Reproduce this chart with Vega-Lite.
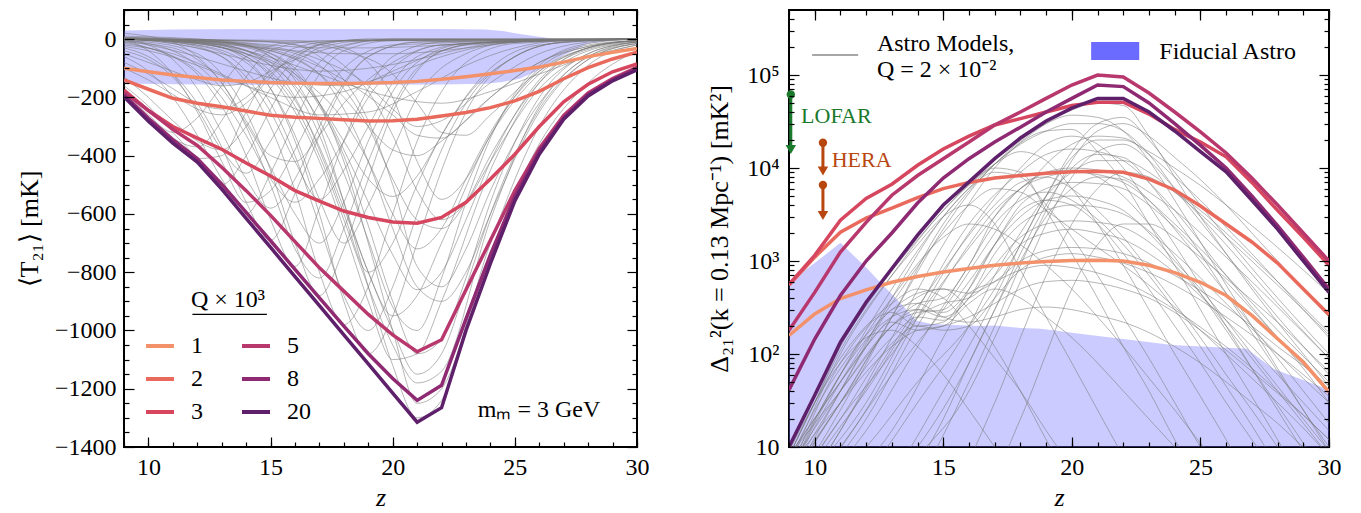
{
"$schema":"https://vega.github.io/schema/vega-lite/v6.json",
"background":"white",
"padding":{"left":15,"top":8,"right":5,"bottom":0},
"config":{
 "font":"Liberation Serif",
 "view":{"stroke":"black","strokeWidth":2},
 "axis":{"grid":false,"domain":false,"labelFont":"Liberation Serif","labelFontSize":24,"labelColor":"black","titleFont":"Liberation Serif","titleFontSize":26,"titleFontWeight":"normal","titleColor":"black","tickColor":"black","tickWidth":1.2,"labelFlush":false,"labelOverlap":false},
 "text":{"font":"Liberation Serif","fontSize":24,"color":"black"}
},
"datasets":{
 "lband":[
  {"z":9,"hi":30,"lo":-152},{"z":11,"hi":33,"lo":-155},{"z":14,"hi":35,"lo":-157},{"z":18,"hi":35,"lo":-157},{"z":22,"hi":35,"lo":-156},{"z":23.8,"hi":33,"lo":-153},{"z":24.5,"hi":28,"lo":-147},{"z":25.2,"hi":18,"lo":-136},{"z":26,"hi":8,"lo":-105},{"z":26.6,"hi":1,"lo":-75},{"z":27,"hi":0,"lo":-55},{"z":28,"hi":0,"lo":-15},{"z":29,"hi":0,"lo":-5},{"z":30,"hi":0,"lo":-1}
 ],
 "lq":[
  {"q":"1","z":9,"v":-100},{"q":"1","z":10,"v":-112},{"q":"1","z":11,"v":-123},{"q":"1","z":12,"v":-132},{"q":"1","z":13,"v":-140},{"q":"1","z":14,"v":-145},{"q":"1","z":15,"v":-149},{"q":"1","z":16,"v":-151},{"q":"1","z":17,"v":-152},{"q":"1","z":18,"v":-152},{"q":"1","z":19,"v":-151},{"q":"1","z":20,"v":-149},{"q":"1","z":21,"v":-145},{"q":"1","z":22,"v":-138},{"q":"1","z":23,"v":-129},{"q":"1","z":24,"v":-119},{"q":"1","z":25,"v":-108},{"q":"1","z":26,"v":-96},{"q":"1","z":27,"v":-79},{"q":"1","z":28,"v":-60},{"q":"1","z":29,"v":-45},{"q":"1","z":30,"v":-32},
  {"q":"2","z":9,"v":-140},{"q":"2","z":10,"v":-172},{"q":"2","z":11,"v":-203},{"q":"2","z":12,"v":-220},{"q":"2","z":13,"v":-232},{"q":"2","z":14,"v":-247},{"q":"2","z":15,"v":-261},{"q":"2","z":16,"v":-268},{"q":"2","z":17,"v":-272},{"q":"2","z":18,"v":-277},{"q":"2","z":19,"v":-281},{"q":"2","z":20,"v":-280},{"q":"2","z":21,"v":-275},{"q":"2","z":22,"v":-264},{"q":"2","z":23,"v":-252},{"q":"2","z":24,"v":-235},{"q":"2","z":25,"v":-212},{"q":"2","z":26,"v":-179},{"q":"2","z":27,"v":-136},{"q":"2","z":28,"v":-98},{"q":"2","z":29,"v":-68},{"q":"2","z":30,"v":-45},
  {"q":"3","z":9,"v":-175},{"q":"3","z":10,"v":-245},{"q":"3","z":11,"v":-300},{"q":"3","z":12,"v":-340},{"q":"3","z":13,"v":-378},{"q":"3","z":14,"v":-425},{"q":"3","z":15,"v":-470},{"q":"3","z":16,"v":-520},{"q":"3","z":17,"v":-556},{"q":"3","z":18,"v":-590},{"q":"3","z":19,"v":-612},{"q":"3","z":20,"v":-628},{"q":"3","z":21,"v":-632},{"q":"3","z":22,"v":-612},{"q":"3","z":23,"v":-560},{"q":"3","z":24,"v":-480},{"q":"3","z":25,"v":-395},{"q":"3","z":26,"v":-300},{"q":"3","z":27,"v":-215},{"q":"3","z":28,"v":-155},{"q":"3","z":29,"v":-112},{"q":"3","z":30,"v":-85},
  {"q":"5","z":9,"v":-182},{"q":"5","z":10,"v":-245},{"q":"5","z":11,"v":-310},{"q":"5","z":12,"v":-365},{"q":"5","z":13,"v":-440},{"q":"5","z":14,"v":-520},{"q":"5","z":15,"v":-605},{"q":"5","z":16,"v":-695},{"q":"5","z":17,"v":-785},{"q":"5","z":18,"v":-865},{"q":"5","z":19,"v":-945},{"q":"5","z":20,"v":-1015},{"q":"5","z":21,"v":-1073},{"q":"5","z":22,"v":-1032},{"q":"5","z":23,"v":-860},{"q":"5","z":24,"v":-690},{"q":"5","z":25,"v":-520},{"q":"5","z":26,"v":-375},{"q":"5","z":27,"v":-262},{"q":"5","z":28,"v":-185},{"q":"5","z":29,"v":-135},{"q":"5","z":30,"v":-97},
  {"q":"8","z":9,"v":-192},{"q":"8","z":10,"v":-272},{"q":"8","z":11,"v":-345},{"q":"8","z":12,"v":-410},{"q":"8","z":13,"v":-498},{"q":"8","z":14,"v":-595},{"q":"8","z":15,"v":-692},{"q":"8","z":16,"v":-790},{"q":"8","z":17,"v":-888},{"q":"8","z":18,"v":-985},{"q":"8","z":19,"v":-1080},{"q":"8","z":20,"v":-1165},{"q":"8","z":21,"v":-1240},{"q":"8","z":22,"v":-1188},{"q":"8","z":23,"v":-960},{"q":"8","z":24,"v":-740},{"q":"8","z":25,"v":-540},{"q":"8","z":26,"v":-385},{"q":"8","z":27,"v":-270},{"q":"8","z":28,"v":-190},{"q":"8","z":29,"v":-140},{"q":"8","z":30,"v":-100},
  {"q":"20","z":9,"v":-198},{"q":"20","z":10,"v":-282},{"q":"20","z":11,"v":-357},{"q":"20","z":12,"v":-422},{"q":"20","z":13,"v":-515},{"q":"20","z":14,"v":-615},{"q":"20","z":15,"v":-715},{"q":"20","z":16,"v":-815},{"q":"20","z":17,"v":-915},{"q":"20","z":18,"v":-1015},{"q":"20","z":19,"v":-1115},{"q":"20","z":20,"v":-1215},{"q":"20","z":21,"v":-1315},{"q":"20","z":22,"v":-1265},{"q":"20","z":23,"v":-1000},{"q":"20","z":24,"v":-770},{"q":"20","z":25,"v":-555},{"q":"20","z":26,"v":-395},{"q":"20","z":27,"v":-275},{"q":"20","z":28,"v":-195},{"q":"20","z":29,"v":-143},{"q":"20","z":30,"v":-105}
 ],
 "lg":[
  {"m":1,"z":9,"v":5},{"m":1,"z":12,"v":0},{"m":1,"z":14,"v":-20},{"m":1,"z":15,"v":-60},{"m":1,"z":16,"v":-140},{"m":1,"z":17,"v":-300},{"m":1,"z":18,"v":-560},{"m":1,"z":19,"v":-850},{"m":1,"z":20,"v":-1120},{"m":1,"z":21,"v":-1300},{"m":1,"z":22,"v":-1240},{"m":1,"z":23,"v":-990},{"m":1,"z":24,"v":-740},{"m":1,"z":26,"v":-360},{"m":1,"z":28,"v":-150},{"m":1,"z":30,"v":-40},
  {"m":2,"z":9,"v":5},{"m":2,"z":12,"v":-5},{"m":2,"z":14,"v":-25},{"m":2,"z":16,"v":-100},{"m":2,"z":17,"v":-220},{"m":2,"z":18,"v":-420},{"m":2,"z":19,"v":-700},{"m":2,"z":20,"v":-1000},{"m":2,"z":21,"v":-1250},{"m":2,"z":22,"v":-1200},{"m":2,"z":24,"v":-700},{"m":2,"z":26,"v":-300},{"m":2,"z":28,"v":-90},{"m":2,"z":30,"v":-20},
  {"m":3,"z":9,"v":0},{"m":3,"z":12,"v":-15},{"m":3,"z":14,"v":-60},{"m":3,"z":15,"v":-120},{"m":3,"z":16,"v":-230},{"m":3,"z":17,"v":-400},{"m":3,"z":18,"v":-620},{"m":3,"z":19,"v":-850},{"m":3,"z":20,"v":-1050},{"m":3,"z":21,"v":-1180},{"m":3,"z":22,"v":-1140},{"m":3,"z":24,"v":-620},{"m":3,"z":26,"v":-230},{"m":3,"z":28,"v":-60},{"m":3,"z":30,"v":-10},
  {"m":4,"z":9,"v":0},{"m":4,"z":12,"v":-15},{"m":4,"z":14,"v":-60},{"m":4,"z":15,"v":-130},{"m":4,"z":16,"v":-250},{"m":4,"z":17,"v":-420},{"m":4,"z":18,"v":-650},{"m":4,"z":19,"v":-900},{"m":4,"z":20,"v":-1100},{"m":4,"z":21,"v":-1080},{"m":4,"z":22,"v":-900},{"m":4,"z":24,"v":-450},{"m":4,"z":26,"v":-150},{"m":4,"z":28,"v":-30},{"m":4,"z":30,"v":-5},
  {"m":5,"z":9,"v":0},{"m":5,"z":13,"v":-20},{"m":5,"z":15,"v":-80},{"m":5,"z":16,"v":-170},{"m":5,"z":17,"v":-330},{"m":5,"z":18,"v":-560},{"m":5,"z":19,"v":-800},{"m":5,"z":20,"v":-950},{"m":5,"z":21,"v":-880},{"m":5,"z":22,"v":-700},{"m":5,"z":24,"v":-330},{"m":5,"z":26,"v":-100},{"m":5,"z":28,"v":-25},{"m":5,"z":30,"v":-5},
  {"m":6,"z":9,"v":5},{"m":6,"z":12,"v":-10},{"m":6,"z":14,"v":-70},{"m":6,"z":15,"v":-170},{"m":6,"z":16,"v":-350},{"m":6,"z":17,"v":-600},{"m":6,"z":18,"v":-900},{"m":6,"z":19,"v":-1080},{"m":6,"z":20,"v":-950},{"m":6,"z":21,"v":-700},{"m":6,"z":22,"v":-450},{"m":6,"z":23,"v":-250},{"m":6,"z":25,"v":-60},{"m":6,"z":27,"v":-10},{"m":6,"z":30,"v":0},
  {"m":7,"z":9,"v":0},{"m":7,"z":13,"v":-20},{"m":7,"z":15,"v":-90},{"m":7,"z":16,"v":-200},{"m":7,"z":17,"v":-380},{"m":7,"z":18,"v":-600},{"m":7,"z":19,"v":-800},{"m":7,"z":20,"v":-700},{"m":7,"z":21,"v":-500},{"m":7,"z":22,"v":-330},{"m":7,"z":24,"v":-100},{"m":7,"z":26,"v":-20},{"m":7,"z":30,"v":0},
  {"m":8,"z":9,"v":0},{"m":8,"z":11,"v":-10},{"m":8,"z":13,"v":-60},{"m":8,"z":14,"v":-150},{"m":8,"z":15,"v":-300},{"m":8,"z":16,"v":-520},{"m":8,"z":17,"v":-800},{"m":8,"z":18,"v":-980},{"m":8,"z":19,"v":-850},{"m":8,"z":20,"v":-600},{"m":8,"z":21,"v":-350},{"m":8,"z":22,"v":-180},{"m":8,"z":23,"v":-80},{"m":8,"z":25,"v":-15},{"m":8,"z":30,"v":0},
  {"m":9,"z":9,"v":0},{"m":9,"z":12,"v":-20},{"m":9,"z":14,"v":-80},{"m":9,"z":15,"v":-170},{"m":9,"z":16,"v":-330},{"m":9,"z":17,"v":-550},{"m":9,"z":18,"v":-700},{"m":9,"z":19,"v":-570},{"m":9,"z":20,"v":-380},{"m":9,"z":21,"v":-200},{"m":9,"z":23,"v":-50},{"m":9,"z":25,"v":-10},{"m":9,"z":30,"v":0},
  {"m":10,"z":9,"v":-5},{"m":10,"z":10,"v":-10},{"m":10,"z":12,"v":-50},{"m":10,"z":13,"v":-120},{"m":10,"z":14,"v":-250},{"m":10,"z":15,"v":-450},{"m":10,"z":16,"v":-700},{"m":10,"z":17,"v":-880},{"m":10,"z":18,"v":-720},{"m":10,"z":19,"v":-480},{"m":10,"z":20,"v":-250},{"m":10,"z":21,"v":-110},{"m":10,"z":22,"v":-40},{"m":10,"z":24,"v":-10},{"m":10,"z":30,"v":0},
  {"m":11,"z":9,"v":0},{"m":11,"z":11,"v":-15},{"m":11,"z":13,"v":-60},{"m":11,"z":14,"v":-130},{"m":11,"z":15,"v":-250},{"m":11,"z":16,"v":-420},{"m":11,"z":17,"v":-550},{"m":11,"z":18,"v":-450},{"m":11,"z":19,"v":-300},{"m":11,"z":20,"v":-150},{"m":11,"z":21,"v":-60},{"m":11,"z":23,"v":-15},{"m":11,"z":30,"v":0},
  {"m":12,"z":9,"v":-15},{"m":12,"z":10,"v":-30},{"m":12,"z":11,"v":-60},{"m":12,"z":12,"v":-120},{"m":12,"z":13,"v":-230},{"m":12,"z":14,"v":-400},{"m":12,"z":15,"v":-620},{"m":12,"z":16,"v":-780},{"m":12,"z":17,"v":-580},{"m":12,"z":18,"v":-350},{"m":12,"z":19,"v":-170},{"m":12,"z":20,"v":-60},{"m":12,"z":22,"v":-10},{"m":12,"z":30,"v":0},
  {"m":13,"z":9,"v":-30},{"m":13,"z":10,"v":-60},{"m":13,"z":11,"v":-120},{"m":13,"z":12,"v":-220},{"m":13,"z":13,"v":-370},{"m":13,"z":14,"v":-560},{"m":13,"z":15,"v":-690},{"m":13,"z":16,"v":-530},{"m":13,"z":17,"v":-330},{"m":13,"z":18,"v":-160},{"m":13,"z":19,"v":-60},{"m":13,"z":21,"v":-10},{"m":13,"z":30,"v":0},
  {"m":14,"z":9,"v":-60},{"m":14,"z":10,"v":-110},{"m":14,"z":11,"v":-200},{"m":14,"z":12,"v":-330},{"m":14,"z":13,"v":-480},{"m":14,"z":14,"v":-600},{"m":14,"z":15,"v":-460},{"m":14,"z":16,"v":-280},{"m":14,"z":17,"v":-120},{"m":14,"z":18,"v":-40},{"m":14,"z":20,"v":-5},{"m":14,"z":30,"v":0},
  {"m":15,"z":9,"v":-160},{"m":15,"z":10,"v":-230},{"m":15,"z":11,"v":-320},{"m":15,"z":12,"v":-410},{"m":15,"z":13,"v":-500},{"m":15,"z":14,"v":-400},{"m":15,"z":15,"v":-240},{"m":15,"z":16,"v":-100},{"m":15,"z":17,"v":-30},{"m":15,"z":19,"v":-5},{"m":15,"z":30,"v":0},
  {"m":16,"z":9,"v":-198},{"m":16,"z":10,"v":-275},{"m":16,"z":11,"v":-350},{"m":16,"z":12,"v":-410},{"m":16,"z":13,"v":-400},{"m":16,"z":14,"v":-250},{"m":16,"z":15,"v":-100},{"m":16,"z":16,"v":-30},{"m":16,"z":18,"v":-5},{"m":16,"z":30,"v":0},
  {"m":17,"z":9,"v":-190},{"m":17,"z":10,"v":-270},{"m":17,"z":11,"v":-340},{"m":17,"z":12,"v":-370},{"m":17,"z":13,"v":-280},{"m":17,"z":14,"v":-130},{"m":17,"z":15,"v":-40},{"m":17,"z":17,"v":-5},{"m":17,"z":30,"v":0},
  {"m":18,"z":9,"v":-180},{"m":18,"z":10,"v":-260},{"m":18,"z":11,"v":-320},{"m":18,"z":12,"v":-270},{"m":18,"z":13,"v":-160},{"m":18,"z":14,"v":-60},{"m":18,"z":16,"v":-10},{"m":18,"z":30,"v":0},
  {"m":19,"z":9,"v":-25},{"m":19,"z":10,"v":-40},{"m":19,"z":12,"v":-90},{"m":19,"z":14,"v":-160},{"m":19,"z":16,"v":-200},{"m":19,"z":18,"v":-180},{"m":19,"z":20,"v":-110},{"m":19,"z":22,"v":-40},{"m":19,"z":24,"v":-10},{"m":19,"z":30,"v":0},
  {"m":20,"z":9,"v":0},{"m":20,"z":11,"v":-15},{"m":20,"z":13,"v":-50},{"m":20,"z":15,"v":-90},{"m":20,"z":17,"v":-110},{"m":20,"z":19,"v":-100},{"m":20,"z":21,"v":-70},{"m":20,"z":23,"v":-30},{"m":20,"z":25,"v":-5},{"m":20,"z":30,"v":0},
  {"m":21,"z":9,"v":0},{"m":21,"z":12,"v":-10},{"m":21,"z":14,"v":-25},{"m":21,"z":16,"v":-40},{"m":21,"z":18,"v":-50},{"m":21,"z":20,"v":-50},{"m":21,"z":22,"v":-40},{"m":21,"z":24,"v":-20},{"m":21,"z":26,"v":-5},{"m":21,"z":30,"v":0},
  {"m":22,"z":9,"v":-5},{"m":22,"z":10,"v":-20},{"m":22,"z":12,"v":-60},{"m":22,"z":14,"v":-110},{"m":22,"z":16,"v":-150},{"m":22,"z":18,"v":-160},{"m":22,"z":20,"v":-120},{"m":22,"z":22,"v":-60},{"m":22,"z":25,"v":-10},{"m":22,"z":30,"v":0},
  {"m":23,"z":9,"v":-10},{"m":23,"z":10,"v":-30},{"m":23,"z":12,"v":-110},{"m":23,"z":13,"v":-200},{"m":23,"z":14,"v":-330},{"m":23,"z":15,"v":-480},{"m":23,"z":16,"v":-560},{"m":23,"z":17,"v":-480},{"m":23,"z":18,"v":-350},{"m":23,"z":19,"v":-200},{"m":23,"z":20,"v":-100},{"m":23,"z":22,"v":-20},{"m":23,"z":30,"v":0},
  {"m":24,"z":9,"v":0},{"m":24,"z":12,"v":-5},{"m":24,"z":15,"v":-30},{"m":24,"z":17,"v":-90},{"m":24,"z":18,"v":-170},{"m":24,"z":19,"v":-300},{"m":24,"z":20,"v":-480},{"m":24,"z":21,"v":-620},{"m":24,"z":22,"v":-650},{"m":24,"z":23,"v":-560},{"m":24,"z":24,"v":-400},{"m":24,"z":26,"v":-150},{"m":24,"z":28,"v":-40},{"m":24,"z":30,"v":-10},
  {"m":25,"z":9,"v":0},{"m":25,"z":12,"v":-5},{"m":25,"z":15,"v":-40},{"m":25,"z":17,"v":-120},{"m":25,"z":18,"v":-240},{"m":25,"z":19,"v":-420},{"m":25,"z":20,"v":-650},{"m":25,"z":21,"v":-850},{"m":25,"z":22,"v":-900},{"m":25,"z":23,"v":-800},{"m":25,"z":24,"v":-600},{"m":25,"z":26,"v":-250},{"m":25,"z":28,"v":-70},{"m":25,"z":30,"v":-15},
  {"m":26,"z":9,"v":0},{"m":26,"z":12,"v":-5},{"m":26,"z":15,"v":-40},{"m":26,"z":17,"v":-120},{"m":26,"z":18,"v":-200},{"m":26,"z":19,"v":-300},{"m":26,"z":20,"v":-380},{"m":26,"z":21,"v":-400},{"m":26,"z":22,"v":-350},{"m":26,"z":24,"v":-200},{"m":26,"z":26,"v":-80},{"m":26,"z":28,"v":-25},{"m":26,"z":30,"v":-5},
  {"m":27,"z":9,"v":20},{"m":27,"z":10,"v":10},{"m":27,"z":11,"v":-10},{"m":27,"z":12,"v":-60},{"m":27,"z":13,"v":-150},{"m":27,"z":14,"v":-280},{"m":27,"z":15,"v":-400},{"m":27,"z":16,"v":-420},{"m":27,"z":17,"v":-330},{"m":27,"z":18,"v":-220},{"m":27,"z":20,"v":-80},{"m":27,"z":22,"v":-20},{"m":27,"z":30,"v":0},
  {"m":28,"z":9,"v":0},{"m":28,"z":10,"v":-40},{"m":28,"z":11,"v":-120},{"m":28,"z":12,"v":-250},{"m":28,"z":13,"v":-420},{"m":28,"z":14,"v":-560},{"m":28,"z":15,"v":-520},{"m":28,"z":16,"v":-380},{"m":28,"z":17,"v":-220},{"m":28,"z":18,"v":-100},{"m":28,"z":20,"v":-20},{"m":28,"z":30,"v":0},
  {"m":29,"z":9,"v":0},{"m":29,"z":12,"v":-10},{"m":29,"z":14,"v":-40},{"m":29,"z":16,"v":-90},{"m":29,"z":18,"v":-150},{"m":29,"z":20,"v":-200},{"m":29,"z":22,"v":-220},{"m":29,"z":24,"v":-180},{"m":29,"z":26,"v":-120},{"m":29,"z":28,"v":-60},{"m":29,"z":30,"v":-20},
  {"m":30,"z":9,"v":-20},{"m":30,"z":11,"v":-50},{"m":30,"z":13,"v":-120},{"m":30,"z":15,"v":-200},{"m":30,"z":17,"v":-260},{"m":30,"z":19,"v":-250},{"m":30,"z":21,"v":-180},{"m":30,"z":23,"v":-90},{"m":30,"z":25,"v":-30},{"m":30,"z":27,"v":-5},{"m":30,"z":30,"v":0},
  {"m":31,"z":9,"v":-100},{"m":31,"z":10,"v":-140},{"m":31,"z":11,"v":-190},{"m":31,"z":12,"v":-240},{"m":31,"z":13,"v":-260},{"m":31,"z":14,"v":-220},{"m":31,"z":15,"v":-130},{"m":31,"z":16,"v":-50},{"m":31,"z":18,"v":-5},{"m":31,"z":30,"v":0},
  {"m":32,"z":9,"v":-130},{"m":32,"z":10,"v":-200},{"m":32,"z":11,"v":-280},{"m":32,"z":12,"v":-350},{"m":32,"z":13,"v":-380},{"m":32,"z":14,"v":-300},{"m":32,"z":15,"v":-170},{"m":32,"z":16,"v":-70},{"m":32,"z":17,"v":-20},{"m":32,"z":19,"v":0},{"m":32,"z":30,"v":0},
  {"m":33,"z":9,"v":-80},{"m":33,"z":10,"v":-120},{"m":33,"z":11,"v":-170},{"m":33,"z":12,"v":-220},{"m":33,"z":13,"v":-240},{"m":33,"z":14,"v":-200},{"m":33,"z":15,"v":-120},{"m":33,"z":16,"v":-60},{"m":33,"z":17,"v":-20},{"m":33,"z":19,"v":0},{"m":33,"z":30,"v":0},
  {"m":34,"z":9,"v":10},{"m":34,"z":11,"v":5},{"m":34,"z":13,"v":-5},{"m":34,"z":15,"v":-20},{"m":34,"z":17,"v":-30},{"m":34,"z":19,"v":-30},{"m":34,"z":21,"v":-25},{"m":34,"z":23,"v":-15},{"m":34,"z":25,"v":-5},{"m":34,"z":30,"v":0},
  {"m":35,"z":9,"v":0},{"m":35,"z":14,"v":-5},{"m":35,"z":16,"v":-20},{"m":35,"z":17,"v":-60},{"m":35,"z":18,"v":-140},{"m":35,"z":19,"v":-280},{"m":35,"z":20,"v":-500},{"m":35,"z":21,"v":-780},{"m":35,"z":22,"v":-850},{"m":35,"z":23,"v":-720},{"m":35,"z":24,"v":-520},{"m":35,"z":26,"v":-220},{"m":35,"z":28,"v":-60},{"m":35,"z":30,"v":-15},
  {"m":36,"z":9,"v":0},{"m":36,"z":16,"v":-5},{"m":36,"z":18,"v":-30},{"m":36,"z":19,"v":-80},{"m":36,"z":20,"v":-200},{"m":36,"z":21,"v":-420},{"m":36,"z":22,"v":-550},{"m":36,"z":23,"v":-480},{"m":36,"z":24,"v":-330},{"m":36,"z":26,"v":-120},{"m":36,"z":28,"v":-30},{"m":36,"z":30,"v":-5},
  {"m":37,"z":9,"v":0},{"m":37,"z":15,"v":-10},{"m":37,"z":17,"v":-40},{"m":37,"z":18,"v":-90},{"m":37,"z":19,"v":-180},{"m":37,"z":20,"v":-330},{"m":37,"z":21,"v":-520},{"m":37,"z":22,"v":-620},{"m":37,"z":23,"v":-560},{"m":37,"z":24,"v":-420},{"m":37,"z":26,"v":-170},{"m":37,"z":28,"v":-50},{"m":37,"z":30,"v":-10},
  {"m":38,"z":9,"v":0},{"m":38,"z":13,"v":-10},{"m":38,"z":15,"v":-50},{"m":38,"z":16,"v":-110},{"m":38,"z":17,"v":-220},{"m":38,"z":18,"v":-380},{"m":38,"z":19,"v":-560},{"m":38,"z":20,"v":-740},{"m":38,"z":21,"v":-860},{"m":38,"z":22,"v":-800},{"m":38,"z":23,"v":-620},{"m":38,"z":24,"v":-420},{"m":38,"z":26,"v":-140},{"m":38,"z":28,"v":-35},{"m":38,"z":30,"v":-8},
  {"m":39,"z":9,"v":0},{"m":39,"z":12,"v":-10},{"m":39,"z":14,"v":-50},{"m":39,"z":15,"v":-110},{"m":39,"z":16,"v":-210},{"m":39,"z":17,"v":-370},{"m":39,"z":18,"v":-580},{"m":39,"z":19,"v":-800},{"m":39,"z":20,"v":-1000},{"m":39,"z":21,"v":-1150},{"m":39,"z":22,"v":-1080},{"m":39,"z":23,"v":-850},{"m":39,"z":24,"v":-600},{"m":39,"z":26,"v":-240},{"m":39,"z":28,"v":-70},{"m":39,"z":30,"v":-15},
  {"m":40,"z":9,"v":0},{"m":40,"z":11,"v":-10},{"m":40,"z":13,"v":-45},{"m":40,"z":14,"v":-110},{"m":40,"z":15,"v":-220},{"m":40,"z":16,"v":-400},{"m":40,"z":17,"v":-640},{"m":40,"z":18,"v":-880},{"m":40,"z":19,"v":-1000},{"m":40,"z":20,"v":-850},{"m":40,"z":21,"v":-600},{"m":40,"z":22,"v":-380},{"m":40,"z":23,"v":-220},{"m":40,"z":25,"v":-60},{"m":40,"z":27,"v":-10},{"m":40,"z":30,"v":0},
  {"m":41,"z":9,"v":-10},{"m":41,"z":11,"v":-30},{"m":41,"z":12,"v":-70},{"m":41,"z":13,"v":-150},{"m":41,"z":14,"v":-300},{"m":41,"z":15,"v":-500},{"m":41,"z":16,"v":-720},{"m":41,"z":17,"v":-820},{"m":41,"z":18,"v":-650},{"m":41,"z":19,"v":-420},{"m":41,"z":20,"v":-230},{"m":41,"z":21,"v":-100},{"m":41,"z":23,"v":-20},{"m":41,"z":30,"v":0},
  {"m":42,"z":9,"v":0},{"m":42,"z":14,"v":-20},{"m":42,"z":16,"v":-60},{"m":42,"z":18,"v":-140},{"m":42,"z":20,"v":-260},{"m":42,"z":21,"v":-330},{"m":42,"z":22,"v":-340},{"m":42,"z":23,"v":-280},{"m":42,"z":24,"v":-200},{"m":42,"z":26,"v":-80},{"m":42,"z":28,"v":-20},{"m":42,"z":30,"v":-5},
  {"m":43,"z":9,"v":0},{"m":43,"z":12,"v":-5},{"m":43,"z":15,"v":-25},{"m":43,"z":17,"v":-70},{"m":43,"z":19,"v":-160},{"m":43,"z":20,"v":-240},{"m":43,"z":21,"v":-300},{"m":43,"z":22,"v":-280},{"m":43,"z":24,"v":-150},{"m":43,"z":26,"v":-50},{"m":43,"z":28,"v":-10},{"m":43,"z":30,"v":0},
  {"m":44,"z":9,"v":-40},{"m":44,"z":10,"v":-70},{"m":44,"z":11,"v":-130},{"m":44,"z":12,"v":-240},{"m":44,"z":13,"v":-380},{"m":44,"z":14,"v":-460},{"m":44,"z":15,"v":-350},{"m":44,"z":16,"v":-200},{"m":44,"z":17,"v":-80},{"m":44,"z":18,"v":-25},{"m":44,"z":20,"v":0},{"m":44,"z":30,"v":0},
  {"m":45,"z":9,"v":-5},{"m":45,"z":10,"v":-15},{"m":45,"z":11,"v":-40},{"m":45,"z":12,"v":-90},{"m":45,"z":13,"v":-170},{"m":45,"z":14,"v":-290},{"m":45,"z":15,"v":-440},{"m":45,"z":16,"v":-600},{"m":45,"z":17,"v":-700},{"m":45,"z":18,"v":-560},{"m":45,"z":19,"v":-350},{"m":45,"z":20,"v":-180},{"m":45,"z":21,"v":-80},{"m":45,"z":23,"v":-15},{"m":45,"z":30,"v":0},
  {"m":46,"z":9,"v":0},{"m":46,"z":12,"v":-15},{"m":46,"z":14,"v":-50},{"m":46,"z":16,"v":-130},{"m":46,"z":17,"v":-220},{"m":46,"z":18,"v":-350},{"m":46,"z":19,"v":-480},{"m":46,"z":20,"v":-540},{"m":46,"z":21,"v":-470},{"m":46,"z":22,"v":-330},{"m":46,"z":23,"v":-200},{"m":46,"z":25,"v":-60},{"m":46,"z":27,"v":-10},{"m":46,"z":30,"v":0},
  {"m":47,"z":9,"v":5},{"m":47,"z":12,"v":-5},{"m":47,"z":14,"v":-40},{"m":47,"z":16,"v":-120},{"m":47,"z":18,"v":-280},{"m":47,"z":19,"v":-420},{"m":47,"z":20,"v":-600},{"m":47,"z":21,"v":-720},{"m":47,"z":22,"v":-650},{"m":47,"z":23,"v":-480},{"m":47,"z":24,"v":-320},{"m":47,"z":26,"v":-110},{"m":47,"z":28,"v":-30},{"m":47,"z":30,"v":-5},
  {"m":48,"z":9,"v":0},{"m":48,"z":16,"v":-10},{"m":48,"z":18,"v":-40},{"m":48,"z":20,"v":-120},{"m":48,"z":21,"v":-220},{"m":48,"z":22,"v":-320},{"m":48,"z":23,"v":-330},{"m":48,"z":24,"v":-260},{"m":48,"z":26,"v":-110},{"m":48,"z":28,"v":-30},{"m":48,"z":30,"v":-5},
  {"m":49,"z":9,"v":-50},{"m":49,"z":10,"v":-80},{"m":49,"z":11,"v":-110},{"m":49,"z":12,"v":-140},{"m":49,"z":13,"v":-160},{"m":49,"z":14,"v":-150},{"m":49,"z":15,"v":-110},{"m":49,"z":16,"v":-70},{"m":49,"z":18,"v":-20},{"m":49,"z":20,"v":0},{"m":49,"z":30,"v":0},
  {"m":50,"z":9,"v":0},{"m":50,"z":10,"v":-20},{"m":50,"z":11,"v":-70},{"m":50,"z":12,"v":-170},{"m":50,"z":13,"v":-320},{"m":50,"z":14,"v":-480},{"m":50,"z":15,"v":-580},{"m":50,"z":16,"v":-480},{"m":50,"z":17,"v":-300},{"m":50,"z":18,"v":-150},{"m":50,"z":19,"v":-60},{"m":50,"z":21,"v":-10},{"m":50,"z":30,"v":0},
  {"m":51,"z":9,"v":0},{"m":51,"z":13,"v":-15},{"m":51,"z":15,"v":-60},{"m":51,"z":16,"v":-120},{"m":51,"z":17,"v":-230},{"m":51,"z":18,"v":-400},{"m":51,"z":19,"v":-640},{"m":51,"z":20,"v":-900},{"m":51,"z":21,"v":-1080},{"m":51,"z":22,"v":-1030},{"m":51,"z":23,"v":-820},{"m":51,"z":24,"v":-560},{"m":51,"z":26,"v":-200},{"m":51,"z":28,"v":-50},{"m":51,"z":30,"v":-10},
  {"m":52,"z":9,"v":0},{"m":52,"z":11,"v":-5},{"m":52,"z":13,"v":-30},{"m":52,"z":15,"v":-90},{"m":52,"z":16,"v":-160},{"m":52,"z":17,"v":-280},{"m":52,"z":18,"v":-460},{"m":52,"z":19,"v":-690},{"m":52,"z":20,"v":-920},{"m":52,"z":21,"v":-1000},{"m":52,"z":22,"v":-820},{"m":52,"z":23,"v":-560},{"m":52,"z":24,"v":-340},{"m":52,"z":26,"v":-90},{"m":52,"z":28,"v":-15},{"m":52,"z":30,"v":0}
 ],
 "rband":[
  {"z":9,"hi":600,"lo":1},{"z":10,"hi":950,"lo":1},{"z":11,"hi":1570,"lo":1},{"z":11.5,"hi":1150,"lo":1},{"z":12,"hi":850,"lo":1},{"z":12.6,"hi":570,"lo":1},{"z":13.3,"hi":360,"lo":1},{"z":13.95,"hi":229,"lo":1},{"z":14.5,"hi":212,"lo":1},{"z":15.4,"hi":205,"lo":1},{"z":16.5,"hi":200,"lo":1},{"z":17,"hi":203,"lo":1},{"z":18,"hi":190,"lo":1},{"z":18.8,"hi":187,"lo":1},{"z":20.7,"hi":160,"lo":1},{"z":22,"hi":145,"lo":1},{"z":23.9,"hi":125,"lo":1},{"z":26.8,"hi":114,"lo":1},{"z":27.85,"hi":69,"lo":1},{"z":29.75,"hi":44,"lo":1},{"z":30,"hi":41,"lo":1}
 ],
 "rq":[
  {"q":"1","z":9,"v":158},{"q":"1","z":10,"v":270},{"q":"1","z":11,"v":395},{"q":"1","z":12,"v":490},{"q":"1","z":13,"v":590},{"q":"1","z":14,"v":680},{"q":"1","z":15,"v":760},{"q":"1","z":16,"v":830},{"q":"1","z":17,"v":900},{"q":"1","z":18,"v":950},{"q":"1","z":19,"v":985},{"q":"1","z":20,"v":1010},{"q":"1","z":21,"v":1020},{"q":"1","z":22,"v":1000},{"q":"1","z":23,"v":900},{"q":"1","z":24,"v":750},{"q":"1","z":25,"v":590},{"q":"1","z":26,"v":425},{"q":"1","z":27,"v":260},{"q":"1","z":28,"v":146},{"q":"1","z":29,"v":82},{"q":"1","z":30,"v":39},
  {"q":"2","z":9,"v":550},{"q":"2","z":10,"v":1100},{"q":"2","z":11,"v":2040},{"q":"2","z":12,"v":2900},{"q":"2","z":13,"v":3700},{"q":"2","z":14,"v":4800},{"q":"2","z":15,"v":6000},{"q":"2","z":16,"v":7000},{"q":"2","z":17,"v":7800},{"q":"2","z":18,"v":8300},{"q":"2","z":19,"v":8800},{"q":"2","z":20,"v":9100},{"q":"2","z":21,"v":9200},{"q":"2","z":22,"v":9000},{"q":"2","z":23,"v":7600},{"q":"2","z":24,"v":5800},{"q":"2","z":25,"v":3900},{"q":"2","z":26,"v":2500},{"q":"2","z":27,"v":1600},{"q":"2","z":28,"v":950},{"q":"2","z":29,"v":500},{"q":"2","z":30,"v":265},
  {"q":"3","z":9,"v":560},{"q":"3","z":10,"v":1150},{"q":"3","z":11,"v":2750},{"q":"3","z":12,"v":4700},{"q":"3","z":13,"v":6700},{"q":"3","z":14,"v":10700},{"q":"3","z":15,"v":16000},{"q":"3","z":16,"v":22000},{"q":"3","z":17,"v":29000},{"q":"3","z":18,"v":34000},{"q":"3","z":19,"v":40000},{"q":"3","z":20,"v":47000},{"q":"3","z":21,"v":51000},{"q":"3","z":22,"v":51000},{"q":"3","z":23,"v":38000},{"q":"3","z":24,"v":26000},{"q":"3","z":25,"v":19000},{"q":"3","z":26,"v":13200},{"q":"3","z":27,"v":7000},{"q":"3","z":28,"v":3500},{"q":"3","z":29,"v":1800},{"q":"3","z":30,"v":900},
  {"q":"5","z":9,"v":180},{"q":"5","z":10,"v":460},{"q":"5","z":11,"v":1250},{"q":"5","z":12,"v":2600},{"q":"5","z":13,"v":5100},{"q":"5","z":14,"v":8300},{"q":"5","z":15,"v":12600},{"q":"5","z":16,"v":19000},{"q":"5","z":17,"v":29000},{"q":"5","z":18,"v":40000},{"q":"5","z":19,"v":56000},{"q":"5","z":20,"v":78000},{"q":"5","z":21,"v":100000},{"q":"5","z":22,"v":95000},{"q":"5","z":23,"v":64000},{"q":"5","z":24,"v":40000},{"q":"5","z":25,"v":24500},{"q":"5","z":26,"v":14500},{"q":"5","z":27,"v":7800},{"q":"5","z":28,"v":4000},{"q":"5","z":29,"v":2000},{"q":"5","z":30,"v":1000},
  {"q":"8","z":9,"v":41},{"q":"8","z":10,"v":145},{"q":"8","z":11,"v":425},{"q":"8","z":12,"v":1000},{"q":"8","z":13,"v":2000},{"q":"8","z":14,"v":4200},{"q":"8","z":15,"v":7800},{"q":"8","z":16,"v":12600},{"q":"8","z":17,"v":19000},{"q":"8","z":18,"v":27500},{"q":"8","z":19,"v":40000},{"q":"8","z":20,"v":56000},{"q":"8","z":21,"v":78000},{"q":"8","z":22,"v":75000},{"q":"8","z":23,"v":50000},{"q":"8","z":24,"v":30000},{"q":"8","z":25,"v":17500},{"q":"8","z":26,"v":10000},{"q":"8","z":27,"v":5000},{"q":"8","z":28,"v":2400},{"q":"8","z":29,"v":1100},{"q":"8","z":30,"v":500},
  {"q":"20","z":9,"v":10},{"q":"20","z":10,"v":36},{"q":"20","z":11,"v":134},{"q":"20","z":12,"v":360},{"q":"20","z":13,"v":830},{"q":"20","z":14,"v":1900},{"q":"20","z":15,"v":4000},{"q":"20","z":16,"v":7100},{"q":"20","z":17,"v":12600},{"q":"20","z":18,"v":21000},{"q":"20","z":19,"v":32000},{"q":"20","z":20,"v":44000},{"q":"20","z":21,"v":56000},{"q":"20","z":22,"v":56000},{"q":"20","z":23,"v":40000},{"q":"20","z":24,"v":25000},{"q":"20","z":25,"v":15000},{"q":"20","z":26,"v":9100},{"q":"20","z":27,"v":4500},{"q":"20","z":28,"v":2200},{"q":"20","z":29,"v":1000},{"q":"20","z":30,"v":460}
 ],
 "rg":[
  {"m":1,"z":9,"v":2},{"m":1,"z":11,"v":15},{"m":1,"z":13,"v":150},{"m":1,"z":15,"v":1500},{"m":1,"z":17,"v":10000},{"m":1,"z":19,"v":30000},{"m":1,"z":20,"v":42000},{"m":1,"z":21,"v":50000},{"m":1,"z":22,"v":47000},{"m":1,"z":23,"v":22000},{"m":1,"z":24,"v":8000},{"m":1,"z":25,"v":3000},{"m":1,"z":26,"v":1200},{"m":1,"z":27,"v":500},{"m":1,"z":28,"v":220},{"m":1,"z":29,"v":100},{"m":1,"z":30,"v":45},
  {"m":2,"z":9,"v":5},{"m":2,"z":11,"v":30},{"m":2,"z":13,"v":250},{"m":2,"z":15,"v":2200},{"m":2,"z":17,"v":11000},{"m":2,"z":18,"v":18000},{"m":2,"z":19,"v":25000},{"m":2,"z":20,"v":30000},{"m":2,"z":21,"v":30000},{"m":2,"z":22,"v":25000},{"m":2,"z":23,"v":14000},{"m":2,"z":24,"v":6000},{"m":2,"z":26,"v":1200},{"m":2,"z":28,"v":250},{"m":2,"z":30,"v":60},
  {"m":3,"z":9,"v":3},{"m":3,"z":12,"v":30},{"m":3,"z":14,"v":300},{"m":3,"z":16,"v":2500},{"m":3,"z":18,"v":9000},{"m":3,"z":19,"v":14000},{"m":3,"z":20,"v":16000},{"m":3,"z":21,"v":15000},{"m":3,"z":22,"v":12000},{"m":3,"z":23,"v":7000},{"m":3,"z":24,"v":3500},{"m":3,"z":26,"v":700},{"m":3,"z":28,"v":150},{"m":3,"z":30,"v":40},
  {"m":4,"z":9,"v":8},{"m":4,"z":11,"v":40},{"m":4,"z":13,"v":200},{"m":4,"z":14,"v":350},{"m":4,"z":15,"v":400},{"m":4,"z":16,"v":900},{"m":4,"z":17,"v":3000},{"m":4,"z":18,"v":6000},{"m":4,"z":19,"v":8000},{"m":4,"z":20,"v":9000},{"m":4,"z":21,"v":8500},{"m":4,"z":22,"v":7000},{"m":4,"z":24,"v":2500},{"m":4,"z":26,"v":700},{"m":4,"z":28,"v":180},{"m":4,"z":30,"v":50},
  {"m":5,"z":9,"v":5},{"m":5,"z":11,"v":60},{"m":5,"z":13,"v":250},{"m":5,"z":14,"v":300},{"m":5,"z":15,"v":250},{"m":5,"z":16,"v":400},{"m":5,"z":17,"v":1200},{"m":5,"z":18,"v":2500},{"m":5,"z":19,"v":3500},{"m":5,"z":20,"v":4000},{"m":5,"z":21,"v":3800},{"m":5,"z":22,"v":3200},{"m":5,"z":24,"v":1200},{"m":5,"z":26,"v":350},{"m":5,"z":28,"v":100},{"m":5,"z":30,"v":30},
  {"m":6,"z":9,"v":5},{"m":6,"z":11,"v":80},{"m":6,"z":13,"v":280},{"m":6,"z":14,"v":200},{"m":6,"z":15,"v":220},{"m":6,"z":16,"v":450},{"m":6,"z":17,"v":600},{"m":6,"z":18,"v":800},{"m":6,"z":19,"v":900},{"m":6,"z":20,"v":850},{"m":6,"z":22,"v":600},{"m":6,"z":24,"v":300},{"m":6,"z":26,"v":120},{"m":6,"z":28,"v":40},{"m":6,"z":30,"v":12},
  {"m":7,"z":9,"v":2},{"m":7,"z":12,"v":10},{"m":7,"z":14,"v":50},{"m":7,"z":16,"v":200},{"m":7,"z":17,"v":500},{"m":7,"z":18,"v":1500},{"m":7,"z":19,"v":5000},{"m":7,"z":20,"v":15000},{"m":7,"z":21,"v":30000},{"m":7,"z":22,"v":35000},{"m":7,"z":23,"v":20000},{"m":7,"z":24,"v":9000},{"m":7,"z":25,"v":4000},{"m":7,"z":26,"v":1800},{"m":7,"z":28,"v":400},{"m":7,"z":30,"v":100},
  {"m":8,"z":9,"v":1},{"m":8,"z":14,"v":8},{"m":8,"z":16,"v":40},{"m":8,"z":17,"v":150},{"m":8,"z":18,"v":600},{"m":8,"z":19,"v":2500},{"m":8,"z":20,"v":8000},{"m":8,"z":21,"v":15000},{"m":8,"z":22,"v":18000},{"m":8,"z":23,"v":12000},{"m":8,"z":24,"v":6000},{"m":8,"z":26,"v":1500},{"m":8,"z":28,"v":350},{"m":8,"z":30,"v":90},
  {"m":9,"z":9,"v":8},{"m":9,"z":10,"v":30},{"m":9,"z":11,"v":110},{"m":9,"z":12,"v":300},{"m":9,"z":13,"v":700},{"m":9,"z":14,"v":1500},{"m":9,"z":15,"v":3000},{"m":9,"z":16,"v":4000},{"m":9,"z":17,"v":2500},{"m":9,"z":18,"v":800},{"m":9,"z":19,"v":250},{"m":9,"z":20,"v":80},{"m":9,"z":21,"v":25},{"m":9,"z":22,"v":8},{"m":9,"z":23,"v":3},
  {"m":10,"z":9,"v":8},{"m":10,"z":10,"v":30},{"m":10,"z":11,"v":120},{"m":10,"z":12,"v":330},{"m":10,"z":13,"v":780},{"m":10,"z":14,"v":1700},{"m":10,"z":15,"v":3500},{"m":10,"z":16,"v":6500},{"m":10,"z":17,"v":10000},{"m":10,"z":18,"v":9000},{"m":10,"z":19,"v":3500},{"m":10,"z":20,"v":1200},{"m":10,"z":21,"v":400},{"m":10,"z":22,"v":120},{"m":10,"z":23,"v":40},{"m":10,"z":24,"v":12},{"m":10,"z":25,"v":4},
  {"m":11,"z":9,"v":6},{"m":11,"z":11,"v":100},{"m":11,"z":13,"v":700},{"m":11,"z":15,"v":3500},{"m":11,"z":17,"v":11000},{"m":11,"z":18,"v":15000},{"m":11,"z":19,"v":12000},{"m":11,"z":20,"v":6000},{"m":11,"z":21,"v":2500},{"m":11,"z":22,"v":900},{"m":11,"z":23,"v":300},{"m":11,"z":24,"v":100},{"m":11,"z":25,"v":35},{"m":11,"z":26,"v":12},{"m":11,"z":27,"v":4},
  {"m":12,"z":9,"v":5},{"m":12,"z":11,"v":60},{"m":12,"z":13,"v":500},{"m":12,"z":15,"v":3000},{"m":12,"z":17,"v":11000},{"m":12,"z":19,"v":25000},{"m":12,"z":20,"v":26000},{"m":12,"z":21,"v":15000},{"m":12,"z":22,"v":7000},{"m":12,"z":23,"v":2500},{"m":12,"z":24,"v":900},{"m":12,"z":25,"v":300},{"m":12,"z":26,"v":100},{"m":12,"z":27,"v":35},{"m":12,"z":28,"v":12},{"m":12,"z":29,"v":4},
  {"m":13,"z":9,"v":3},{"m":13,"z":11,"v":25},{"m":13,"z":13,"v":250},{"m":13,"z":15,"v":2500},{"m":13,"z":17,"v":11000},{"m":13,"z":19,"v":30000},{"m":13,"z":20,"v":37000},{"m":13,"z":21,"v":35000},{"m":13,"z":22,"v":25000},{"m":13,"z":23,"v":12000},{"m":13,"z":24,"v":4500},{"m":13,"z":25,"v":1600},{"m":13,"z":26,"v":550},{"m":13,"z":27,"v":200},{"m":13,"z":28,"v":70},{"m":13,"z":29,"v":25},{"m":13,"z":30,"v":9},
  {"m":14,"z":9,"v":8},{"m":14,"z":10,"v":30},{"m":14,"z":11,"v":90},{"m":14,"z":12,"v":200},{"m":14,"z":13,"v":350},{"m":14,"z":14,"v":500},{"m":14,"z":15,"v":400},{"m":14,"z":16,"v":200},{"m":14,"z":17,"v":90},{"m":14,"z":18,"v":40},{"m":14,"z":19,"v":15},{"m":14,"z":20,"v":6},
  {"m":15,"z":9,"v":9},{"m":15,"z":10,"v":30},{"m":15,"z":11,"v":80},{"m":15,"z":12,"v":150},{"m":15,"z":13,"v":180},{"m":15,"z":14,"v":120},{"m":15,"z":15,"v":60},{"m":15,"z":16,"v":25},{"m":15,"z":17,"v":10},{"m":15,"z":18,"v":4},
  {"m":16,"z":9,"v":8},{"m":16,"z":11,"v":50},{"m":16,"z":12,"v":120},{"m":16,"z":13,"v":220},{"m":16,"z":14,"v":180},{"m":16,"z":15,"v":200},{"m":16,"z":16,"v":350},{"m":16,"z":17,"v":500},{"m":16,"z":18,"v":400},{"m":16,"z":19,"v":250},{"m":16,"z":20,"v":150},{"m":16,"z":21,"v":80},{"m":16,"z":22,"v":40},{"m":16,"z":23,"v":20},{"m":16,"z":24,"v":10},{"m":16,"z":25,"v":5},
  {"m":17,"z":9,"v":4},{"m":17,"z":11,"v":30},{"m":17,"z":13,"v":150},{"m":17,"z":14,"v":250},{"m":17,"z":15,"v":230},{"m":17,"z":16,"v":400},{"m":17,"z":17,"v":900},{"m":17,"z":18,"v":1800},{"m":17,"z":19,"v":2500},{"m":17,"z":20,"v":2700},{"m":17,"z":21,"v":2600},{"m":17,"z":22,"v":2300},{"m":17,"z":23,"v":1600},{"m":17,"z":24,"v":900},{"m":17,"z":25,"v":450},{"m":17,"z":26,"v":200},{"m":17,"z":27,"v":90},{"m":17,"z":28,"v":40},{"m":17,"z":29,"v":18},{"m":17,"z":30,"v":8},
  {"m":18,"z":9,"v":6},{"m":18,"z":11,"v":40},{"m":18,"z":13,"v":200},{"m":18,"z":14,"v":300},{"m":18,"z":15,"v":280},{"m":18,"z":16,"v":500},{"m":18,"z":17,"v":1500},{"m":18,"z":18,"v":4000},{"m":18,"z":19,"v":6000},{"m":18,"z":20,"v":7000},{"m":18,"z":21,"v":6800},{"m":18,"z":22,"v":6000},{"m":18,"z":23,"v":4000},{"m":18,"z":24,"v":2300},{"m":18,"z":25,"v":1200},{"m":18,"z":26,"v":600},{"m":18,"z":27,"v":300},{"m":18,"z":28,"v":150},{"m":18,"z":29,"v":70},{"m":18,"z":30,"v":30},
  {"m":19,"z":9,"v":2},{"m":19,"z":11,"v":10},{"m":19,"z":13,"v":60},{"m":19,"z":15,"v":300},{"m":19,"z":17,"v":2000},{"m":19,"z":18,"v":5000},{"m":19,"z":19,"v":11000},{"m":19,"z":20,"v":18000},{"m":19,"z":21,"v":22000},{"m":19,"z":22,"v":21000},{"m":19,"z":23,"v":14000},{"m":19,"z":24,"v":8000},{"m":19,"z":25,"v":4500},{"m":19,"z":26,"v":2300},{"m":19,"z":27,"v":1200},{"m":19,"z":28,"v":600},{"m":19,"z":29,"v":300},{"m":19,"z":30,"v":150},
  {"m":20,"z":9,"v":1},{"m":20,"z":12,"v":5},{"m":20,"z":14,"v":30},{"m":20,"z":16,"v":200},{"m":20,"z":17,"v":700},{"m":20,"z":18,"v":2000},{"m":20,"z":19,"v":5000},{"m":20,"z":20,"v":9000},{"m":20,"z":21,"v":12000},{"m":20,"z":22,"v":12000},{"m":20,"z":23,"v":9000},{"m":20,"z":24,"v":5500},{"m":20,"z":25,"v":3200},{"m":20,"z":26,"v":1800},{"m":20,"z":27,"v":1000},{"m":20,"z":28,"v":550},{"m":20,"z":29,"v":300},{"m":20,"z":30,"v":160},
  {"m":21,"z":9,"v":3},{"m":21,"z":11,"v":20},{"m":21,"z":13,"v":100},{"m":21,"z":15,"v":600},{"m":21,"z":17,"v":3000},{"m":21,"z":18,"v":6000},{"m":21,"z":19,"v":9000},{"m":21,"z":20,"v":9500},{"m":21,"z":21,"v":8000},{"m":21,"z":22,"v":5000},{"m":21,"z":23,"v":2500},{"m":21,"z":24,"v":1100},{"m":21,"z":25,"v":450},{"m":21,"z":26,"v":180},{"m":21,"z":27,"v":70},{"m":21,"z":28,"v":28},{"m":21,"z":29,"v":11},{"m":21,"z":30,"v":4},
  {"m":22,"z":9,"v":1},{"m":22,"z":13,"v":3},{"m":22,"z":15,"v":20},{"m":22,"z":16,"v":80},{"m":22,"z":17,"v":300},{"m":22,"z":18,"v":1000},{"m":22,"z":19,"v":3000},{"m":22,"z":20,"v":6000},{"m":22,"z":21,"v":8000},{"m":22,"z":22,"v":7500},{"m":22,"z":23,"v":4500},{"m":22,"z":24,"v":2200},{"m":22,"z":25,"v":1000},{"m":22,"z":26,"v":450},{"m":22,"z":27,"v":200},{"m":22,"z":28,"v":90},{"m":22,"z":29,"v":40},{"m":22,"z":30,"v":18},
  {"m":23,"z":9,"v":2},{"m":23,"z":13,"v":15},{"m":23,"z":15,"v":150},{"m":23,"z":17,"v":1500},{"m":23,"z":18,"v":3500},{"m":23,"z":19,"v":4500},{"m":23,"z":20,"v":4000},{"m":23,"z":21,"v":2500},{"m":23,"z":22,"v":1200},{"m":23,"z":23,"v":500},{"m":23,"z":24,"v":200},{"m":23,"z":25,"v":80},{"m":23,"z":26,"v":30},{"m":23,"z":27,"v":12},{"m":23,"z":28,"v":5},
  {"m":24,"z":9,"v":5},{"m":24,"z":11,"v":40},{"m":24,"z":12,"v":120},{"m":24,"z":13,"v":300},{"m":24,"z":14,"v":350},{"m":24,"z":15,"v":250},{"m":24,"z":16,"v":220},{"m":24,"z":17,"v":250},{"m":24,"z":18,"v":300},{"m":24,"z":19,"v":320},{"m":24,"z":20,"v":300},{"m":24,"z":21,"v":260},{"m":24,"z":22,"v":220},{"m":24,"z":23,"v":170},{"m":24,"z":24,"v":120},{"m":24,"z":25,"v":80},{"m":24,"z":26,"v":50},{"m":24,"z":27,"v":30},{"m":24,"z":28,"v":18},{"m":24,"z":29,"v":10},{"m":24,"z":30,"v":6},
  {"m":25,"z":9,"v":8},{"m":25,"z":11,"v":50},{"m":25,"z":13,"v":250},{"m":25,"z":15,"v":500},{"m":25,"z":16,"v":450},{"m":25,"z":17,"v":600},{"m":25,"z":18,"v":1000},{"m":25,"z":19,"v":1300},{"m":25,"z":20,"v":1400},{"m":25,"z":21,"v":1350},{"m":25,"z":22,"v":1200},{"m":25,"z":23,"v":950},{"m":25,"z":24,"v":700},{"m":25,"z":25,"v":480},{"m":25,"z":26,"v":320},{"m":25,"z":27,"v":200},{"m":25,"z":28,"v":120},{"m":25,"z":29,"v":75},{"m":25,"z":30,"v":45},
  {"m":26,"z":9,"v":1},{"m":26,"z":14,"v":5},{"m":26,"z":16,"v":50},{"m":26,"z":17,"v":200},{"m":26,"z":18,"v":900},{"m":26,"z":19,"v":3500},{"m":26,"z":20,"v":12000},{"m":26,"z":21,"v":25000},{"m":26,"z":22,"v":30000},{"m":26,"z":23,"v":22000},{"m":26,"z":24,"v":13000},{"m":26,"z":25,"v":7500},{"m":26,"z":26,"v":4000},{"m":26,"z":27,"v":2000},{"m":26,"z":28,"v":1000},{"m":26,"z":29,"v":500},{"m":26,"z":30,"v":250},
  {"m":27,"z":9,"v":1},{"m":27,"z":15,"v":3},{"m":27,"z":17,"v":30},{"m":27,"z":18,"v":150},{"m":27,"z":19,"v":700},{"m":27,"z":20,"v":2500},{"m":27,"z":21,"v":6000},{"m":27,"z":22,"v":9000},{"m":27,"z":23,"v":8000},{"m":27,"z":24,"v":5500},{"m":27,"z":25,"v":3500},{"m":27,"z":26,"v":2000},{"m":27,"z":27,"v":1100},{"m":27,"z":28,"v":600},{"m":27,"z":29,"v":320},{"m":27,"z":30,"v":170},
  {"m":28,"z":9,"v":1},{"m":28,"z":16,"v":2},{"m":28,"z":18,"v":20},{"m":28,"z":19,"v":100},{"m":28,"z":20,"v":500},{"m":28,"z":21,"v":1500},{"m":28,"z":22,"v":2500},{"m":28,"z":23,"v":2500},{"m":28,"z":24,"v":1800},{"m":28,"z":25,"v":1100},{"m":28,"z":26,"v":650},{"m":28,"z":27,"v":380},{"m":28,"z":28,"v":220},{"m":28,"z":29,"v":120},{"m":28,"z":30,"v":65},
  {"m":29,"z":9,"v":4},{"m":29,"z":11,"v":40},{"m":29,"z":13,"v":400},{"m":29,"z":15,"v":3000},{"m":29,"z":16,"v":6000},{"m":29,"z":17,"v":9000},{"m":29,"z":18,"v":8000},{"m":29,"z":19,"v":4000},{"m":29,"z":20,"v":1800},{"m":29,"z":21,"v":700},{"m":29,"z":22,"v":250},{"m":29,"z":23,"v":90},{"m":29,"z":24,"v":30},{"m":29,"z":25,"v":10},{"m":29,"z":26,"v":4},
  {"m":30,"z":9,"v":2},{"m":30,"z":11,"v":15},{"m":30,"z":13,"v":120},{"m":30,"z":15,"v":800},{"m":30,"z":17,"v":4000},{"m":30,"z":18,"v":7000},{"m":30,"z":19,"v":8000},{"m":30,"z":20,"v":6000},{"m":30,"z":21,"v":3500},{"m":30,"z":22,"v":1800},{"m":30,"z":23,"v":800},{"m":30,"z":24,"v":350},{"m":30,"z":25,"v":150},{"m":30,"z":26,"v":60},{"m":30,"z":27,"v":25},{"m":30,"z":28,"v":10},{"m":30,"z":29,"v":4},
  {"m":31,"z":9,"v":7},{"m":31,"z":10,"v":25},{"m":31,"z":11,"v":70},{"m":31,"z":12,"v":160},{"m":31,"z":13,"v":300},{"m":31,"z":14,"v":450},{"m":31,"z":15,"v":500},{"m":31,"z":16,"v":300},{"m":31,"z":17,"v":120},{"m":31,"z":18,"v":40},{"m":31,"z":19,"v":12},{"m":31,"z":20,"v":4},
  {"m":32,"z":9,"v":6},{"m":32,"z":11,"v":30},{"m":32,"z":13,"v":120},{"m":32,"z":14,"v":180},{"m":32,"z":15,"v":200},{"m":32,"z":16,"v":250},{"m":32,"z":17,"v":350},{"m":32,"z":18,"v":500},{"m":32,"z":19,"v":600},{"m":32,"z":20,"v":620},{"m":32,"z":21,"v":580},{"m":32,"z":22,"v":500},{"m":32,"z":23,"v":400},{"m":32,"z":24,"v":280},{"m":32,"z":25,"v":180},{"m":32,"z":26,"v":110},{"m":32,"z":27,"v":65},{"m":32,"z":28,"v":38},{"m":32,"z":29,"v":22},{"m":32,"z":30,"v":12},
  {"m":33,"z":9,"v":2},{"m":33,"z":12,"v":20},{"m":33,"z":14,"v":200},{"m":33,"z":16,"v":1500},{"m":33,"z":17,"v":3500},{"m":33,"z":18,"v":6000},{"m":33,"z":19,"v":9000},{"m":33,"z":20,"v":10000},{"m":33,"z":21,"v":9500},{"m":33,"z":22,"v":8000},{"m":33,"z":23,"v":5500},{"m":33,"z":24,"v":3500},{"m":33,"z":25,"v":2000},{"m":33,"z":26,"v":1100},{"m":33,"z":27,"v":600},{"m":33,"z":28,"v":320},{"m":33,"z":29,"v":170},{"m":33,"z":30,"v":90},
  {"m":34,"z":9,"v":3},{"m":34,"z":12,"v":40},{"m":34,"z":14,"v":250},{"m":34,"z":15,"v":350},{"m":34,"z":16,"v":400},{"m":34,"z":17,"v":700},{"m":34,"z":18,"v":1500},{"m":34,"z":19,"v":2000},{"m":34,"z":20,"v":2200},{"m":34,"z":21,"v":2000},{"m":34,"z":22,"v":1700},{"m":34,"z":23,"v":1200},{"m":34,"z":24,"v":750},{"m":34,"z":25,"v":420},{"m":34,"z":26,"v":230},{"m":34,"z":27,"v":120},{"m":34,"z":28,"v":60},{"m":34,"z":29,"v":30},{"m":34,"z":30,"v":15},
  {"m":35,"z":9,"v":1},{"m":35,"z":14,"v":10},{"m":35,"z":16,"v":80},{"m":35,"z":17,"v":300},{"m":35,"z":18,"v":1200},{"m":35,"z":19,"v":4000},{"m":35,"z":20,"v":10000},{"m":35,"z":21,"v":14000},{"m":35,"z":22,"v":13000},{"m":35,"z":23,"v":7000},{"m":35,"z":24,"v":3000},{"m":35,"z":25,"v":1200},{"m":35,"z":26,"v":450},{"m":35,"z":27,"v":170},{"m":35,"z":28,"v":65},{"m":35,"z":29,"v":25},{"m":35,"z":30,"v":10},
  {"m":36,"z":9,"v":5},{"m":36,"z":11,"v":50},{"m":36,"z":13,"v":350},{"m":36,"z":15,"v":2000},{"m":36,"z":16,"v":4000},{"m":36,"z":17,"v":6000},{"m":36,"z":18,"v":5500},{"m":36,"z":19,"v":3500},{"m":36,"z":20,"v":2200},{"m":36,"z":21,"v":1400},{"m":36,"z":22,"v":900},{"m":36,"z":23,"v":550},{"m":36,"z":24,"v":320},{"m":36,"z":25,"v":180},{"m":36,"z":26,"v":100},{"m":36,"z":27,"v":55},{"m":36,"z":28,"v":30},{"m":36,"z":29,"v":16},{"m":36,"z":30,"v":8},
  {"m":37,"z":9,"v":2},{"m":37,"z":12,"v":25},{"m":37,"z":14,"v":250},{"m":37,"z":16,"v":2000},{"m":37,"z":18,"v":10000},{"m":37,"z":19,"v":18000},{"m":37,"z":20,"v":22000},{"m":37,"z":21,"v":18000},{"m":37,"z":22,"v":10000},{"m":37,"z":23,"v":4000},{"m":37,"z":24,"v":1500},{"m":37,"z":25,"v":550},{"m":37,"z":26,"v":200},{"m":37,"z":27,"v":70},{"m":37,"z":28,"v":25},{"m":37,"z":29,"v":9},
  {"m":38,"z":9,"v":4},{"m":38,"z":11,"v":30},{"m":38,"z":13,"v":200},{"m":38,"z":14,"v":280},{"m":38,"z":15,"v":300},{"m":38,"z":16,"v":600},{"m":38,"z":17,"v":1500},{"m":38,"z":18,"v":3000},{"m":38,"z":19,"v":4500},{"m":38,"z":20,"v":5000},{"m":38,"z":21,"v":4500},{"m":38,"z":22,"v":3500},{"m":38,"z":23,"v":2000},{"m":38,"z":24,"v":1000},{"m":38,"z":25,"v":500},{"m":38,"z":26,"v":230},{"m":38,"z":27,"v":100},{"m":38,"z":28,"v":45},{"m":38,"z":29,"v":20},{"m":38,"z":30,"v":9},
  {"m":39,"z":9,"v":1},{"m":39,"z":13,"v":5},{"m":39,"z":15,"v":40},{"m":39,"z":17,"v":400},{"m":39,"z":18,"v":1500},{"m":39,"z":19,"v":5000},{"m":39,"z":20,"v":13000},{"m":39,"z":21,"v":20000},{"m":39,"z":22,"v":20000},{"m":39,"z":23,"v":15000},{"m":39,"z":24,"v":10000},{"m":39,"z":25,"v":6500},{"m":39,"z":26,"v":4000},{"m":39,"z":27,"v":2400},{"m":39,"z":28,"v":1400},{"m":39,"z":29,"v":800},{"m":39,"z":30,"v":450},
  {"m":40,"z":9,"v":6},{"m":40,"z":11,"v":60},{"m":40,"z":13,"v":400},{"m":40,"z":15,"v":1800},{"m":40,"z":16,"v":2500},{"m":40,"z":17,"v":2200},{"m":40,"z":18,"v":1500},{"m":40,"z":19,"v":900},{"m":40,"z":20,"v":500},{"m":40,"z":21,"v":250},{"m":40,"z":22,"v":120},{"m":40,"z":23,"v":55},{"m":40,"z":24,"v":25},{"m":40,"z":25,"v":11},{"m":40,"z":26,"v":5},
  {"m":41,"z":9,"v":3},{"m":41,"z":11,"v":20},{"m":41,"z":13,"v":130},{"m":41,"z":14,"v":200},{"m":41,"z":15,"v":180},{"m":41,"z":16,"v":200},{"m":41,"z":17,"v":400},{"m":41,"z":18,"v":800},{"m":41,"z":19,"v":1100},{"m":41,"z":20,"v":1200},{"m":41,"z":21,"v":1100},{"m":41,"z":22,"v":950},{"m":41,"z":23,"v":750},{"m":41,"z":24,"v":550},{"m":41,"z":25,"v":380},{"m":41,"z":26,"v":250},{"m":41,"z":27,"v":160},{"m":41,"z":28,"v":100},{"m":41,"z":29,"v":60},{"m":41,"z":30,"v":35},
  {"m":42,"z":9,"v":2},{"m":42,"z":12,"v":15},{"m":42,"z":14,"v":120},{"m":42,"z":16,"v":900},{"m":42,"z":17,"v":2500},{"m":42,"z":18,"v":4500},{"m":42,"z":19,"v":5500},{"m":42,"z":20,"v":4500},{"m":42,"z":21,"v":2800},{"m":42,"z":22,"v":1500},{"m":42,"z":23,"v":700},{"m":42,"z":24,"v":300},{"m":42,"z":25,"v":120},{"m":42,"z":26,"v":45},{"m":42,"z":27,"v":17},{"m":42,"z":28,"v":6}
 ],
 "err":[{"e":"LOFAR","z":9.07,"top":61700,"bot":15800},{"e":"HERA","z":10.32,"top":18700,"bot":9300},{"e":"HERA","z":10.32,"top":6560,"bot":3090}],
 "errlab":[{"e":"LOFAR","z":9.47,"v":36000,"t":"LOFAR"},{"e":"HERA","z":10.66,"v":12200,"t":"HERA"}]
},
"spacing":55,
"resolve":{"scale":{"color":"independent"},"legend":{"color":"independent"}},
"hconcat":[
 {
  "width":513,"height":437,
  "resolve":{"axis":{"x":"independent","y":"independent"}},
  "layer":[
   {"data":{"name":"lband"},"mark":{"type":"area","color":"#6b6bff","opacity":0.35,"clip":true},
    "encoding":{"x":{"field":"z","type":"quantitative","scale":{"domain":[9,30],"nice":false,"zero":false},"axis":null},
     "y":{"field":"hi","type":"quantitative","scale":{"domain":[-1400,100],"nice":false,"zero":false},"axis":null},
     "y2":{"field":"lo"}}},
   {"data":{"name":"lg"},"mark":{"type":"line","stroke":"#777777","strokeWidth":0.9,"opacity":0.6,"interpolate":"monotone","clip":true},
    "encoding":{"x":{"field":"z","type":"quantitative","scale":{"domain":[9,30],"nice":false,"zero":false},"axis":null},
     "y":{"field":"v","type":"quantitative","scale":{"domain":[-1400,100],"nice":false,"zero":false},"axis":null},
     "detail":{"field":"m","type":"nominal"}}},
   {"data":{"name":"lq"},"mark":{"type":"line","strokeWidth":3.5,"clip":true},
    "encoding":{"x":{"field":"z","type":"quantitative","scale":{"domain":[9,30],"nice":false,"zero":false},"axis":null},
     "y":{"field":"v","type":"quantitative","scale":{"domain":[-1400,100],"nice":false,"zero":false},"axis":null},
     "color":{"field":"q","type":"nominal","scale":{"domain":["1","2","3","5","8","20"],"range":["#f3916b","#e96a5c","#d6475f","#b8386e","#8f2a72","#5e1f6b"]},
      "legend":{"orient":"none","legendX":20,"legendY":278,"columns":2,"symbolType":"stroke","symbolSize":784,"symbolStrokeWidth":4,"labelFontSize":24,"labelFont":"Liberation Serif","labelColor":"black","labelOffset":15,"title":"Q × 10³","titleFont":"Liberation Serif","titleFontSize":24,"titleFontWeight":"normal","titleColor":"black","titleAnchor":"middle","titlePadding":18,"rowPadding":5,"columnPadding":31}}}},
   {"data":{"values":[{"z1":11.8,"z2":14.85,"v":-945}]},"mark":{"type":"rule","color":"black","strokeWidth":1.3},
    "encoding":{"x":{"field":"z1","type":"quantitative","scale":{"domain":[9,30],"nice":false,"zero":false},"axis":null},"x2":{"field":"z2"},
     "y":{"field":"v","type":"quantitative","scale":{"domain":[-1400,100],"nice":false,"zero":false},"axis":null}}},
   {"data":{"values":[{"z":28.5,"v":-1273,"t":"mₘ = 3 GeV"}]},"mark":{"type":"text","align":"right","baseline":"middle","fontSize":24},
    "encoding":{"x":{"field":"z","type":"quantitative","scale":{"domain":[9,30],"nice":false,"zero":false},"axis":null},
     "y":{"field":"v","type":"quantitative","scale":{"domain":[-1400,100],"nice":false,"zero":false},"axis":null},"text":{"field":"t"}}},
   {"data":{"values":[{"z":20,"v":0}]},"mark":{"type":"point","opacity":0},
    "encoding":{"x":{"field":"z","type":"quantitative","scale":{"domain":[9,30],"nice":false,"zero":false},"axis":{"orient":"bottom","values":[10,15,20,25,30],"ticks":false,"tickSize":0,"labelPadding":8,"title":"z","titleFontStyle":"italic","titlePadding":5}},
     "y":{"field":"v","type":"quantitative","scale":{"domain":[-1400,100],"nice":false,"zero":false},"axis":{"orient":"left","values":[-1400,-1200,-1000,-800,-600,-400,-200,0],"ticks":false,"tickSize":0,"labelPadding":8,"format":"d","title":"⟨T₂₁⟩ [mK]","titlePadding":12}}}},
   {"data":{"values":[{"z":20,"v":0}]},"mark":{"type":"point","opacity":0},
    "encoding":{"x":{"field":"z","type":"quantitative","scale":{"domain":[9,30],"nice":false,"zero":false},"axis":{"orient":"bottom","values":[10,15,20,25,30],"labels":false,"title":null,"tickSize":10,"offset":-10,"zindex":2}},
     "y":{"field":"v","type":"quantitative","scale":{"domain":[-1400,100],"nice":false,"zero":false},"axis":{"orient":"left","values":[-1400,-1200,-1000,-800,-600,-400,-200,0],"labels":false,"title":null,"tickSize":10,"offset":-10,"zindex":2}}}},
   {"data":{"values":[{"z":20,"v":0}]},"mark":{"type":"point","opacity":0},
    "encoding":{"x":{"field":"z","type":"quantitative","scale":{"domain":[9,30],"nice":false,"zero":false},"axis":{"orient":"bottom","values":[9,10,11,12,13,14,15,16,17,18,19,20,21,22,23,24,25,26,27,28,29,30],"labels":false,"title":null,"tickSize":5,"offset":-5,"zindex":2}},
     "y":{"field":"v","type":"quantitative","scale":{"domain":[-1400,100],"nice":false,"zero":false},"axis":{"orient":"left","values":[-1350,-1300,-1250,-1150,-1100,-1050,-950,-900,-850,-750,-700,-650,-550,-500,-450,-350,-300,-250,-150,-100,-50,50,100],"labels":false,"title":null,"tickSize":5,"offset":-5,"zindex":2}}}},
   {"data":{"values":[{"z":20,"v":0}]},"mark":{"type":"point","opacity":0},
    "encoding":{"x":{"field":"z","type":"quantitative","scale":{"domain":[9,30],"nice":false,"zero":false},"axis":{"orient":"top","values":[10,15,20,25,30],"labels":false,"title":null,"tickSize":10,"offset":-10,"zindex":2}},
     "y":{"field":"v","type":"quantitative","scale":{"domain":[-1400,100],"nice":false,"zero":false},"axis":{"orient":"right","values":[-1400,-1200,-1000,-800,-600,-400,-200,0],"labels":false,"title":null,"tickSize":10,"offset":-10,"zindex":2}}}},
   {"data":{"values":[{"z":20,"v":0}]},"mark":{"type":"point","opacity":0},
    "encoding":{"x":{"field":"z","type":"quantitative","scale":{"domain":[9,30],"nice":false,"zero":false},"axis":{"orient":"top","values":[9,10,11,12,13,14,15,16,17,18,19,20,21,22,23,24,25,26,27,28,29,30],"labels":false,"title":null,"tickSize":5,"offset":-5,"zindex":2}},
     "y":{"field":"v","type":"quantitative","scale":{"domain":[-1400,100],"nice":false,"zero":false},"axis":{"orient":"right","values":[-1350,-1300,-1250,-1150,-1100,-1050,-950,-900,-850,-750,-700,-650,-550,-500,-450,-350,-300,-250,-150,-100,-50,50,100],"labels":false,"title":null,"tickSize":5,"offset":-5,"zindex":2}}}}
  ]
 },
 {
  "width":540,"height":437,
  "resolve":{"axis":{"x":"independent","y":"independent"}},
  "layer":[
   {"data":{"name":"rband"},"mark":{"type":"area","color":"#6b6bff","opacity":0.35,"clip":true},
    "encoding":{"x":{"field":"z","type":"quantitative","scale":{"domain":[9,30],"nice":false,"zero":false},"axis":null},
     "y":{"field":"hi","type":"quantitative","scale":{"type":"log","domain":[10,500000],"nice":false},"axis":null},
     "y2":{"field":"lo"}}},
   {"data":{"name":"rg"},"mark":{"type":"line","stroke":"#777777","strokeWidth":0.9,"opacity":0.6,"interpolate":"monotone","clip":true},
    "encoding":{"x":{"field":"z","type":"quantitative","scale":{"domain":[9,30],"nice":false,"zero":false},"axis":null},
     "y":{"field":"v","type":"quantitative","scale":{"type":"log","domain":[10,500000],"nice":false},"axis":null},
     "detail":{"field":"m","type":"nominal"}}},
   {"data":{"name":"rq"},"mark":{"type":"line","strokeWidth":3.5,"clip":true},
    "encoding":{"x":{"field":"z","type":"quantitative","scale":{"domain":[9,30],"nice":false,"zero":false},"axis":null},
     "y":{"field":"v","type":"quantitative","scale":{"type":"log","domain":[10,500000],"nice":false},"axis":null},
     "color":{"field":"q","type":"nominal","scale":{"domain":["1","2","3","5","8","20"],"range":["#f3916b","#e96a5c","#d6475f","#b8386e","#8f2a72","#5e1f6b"]},"legend":null}}},
   {"data":{"name":"err"},"mark":{"type":"rule","strokeWidth":3},
    "encoding":{"x":{"field":"z","type":"quantitative","scale":{"domain":[9,30],"nice":false,"zero":false},"axis":null},
     "y":{"field":"top","type":"quantitative","scale":{"type":"log","domain":[10,500000],"nice":false},"axis":null},"y2":{"field":"bot"},
     "stroke":{"field":"e","type":"nominal","scale":{"domain":["LOFAR","HERA"],"range":["#1b7a2b","#b8470f"]},"legend":null}}},
   {"data":{"name":"err"},"mark":{"type":"point","shape":"circle","filled":true,"size":70,"opacity":1},
    "encoding":{"x":{"field":"z","type":"quantitative","scale":{"domain":[9,30],"nice":false,"zero":false},"axis":null},
     "y":{"field":"top","type":"quantitative","scale":{"type":"log","domain":[10,500000],"nice":false},"axis":null},
     "fill":{"field":"e","type":"nominal","scale":{"domain":["LOFAR","HERA"],"range":["#1b7a2b","#b8470f"]},"legend":null}}},
   {"data":{"name":"err"},"mark":{"type":"point","shape":"triangle-down","filled":true,"size":110,"opacity":1},
    "encoding":{"x":{"field":"z","type":"quantitative","scale":{"domain":[9,30],"nice":false,"zero":false},"axis":null},
     "y":{"field":"bot","type":"quantitative","scale":{"type":"log","domain":[10,500000],"nice":false},"axis":null},
     "fill":{"field":"e","type":"nominal","scale":{"domain":["LOFAR","HERA"],"range":["#1b7a2b","#b8470f"]},"legend":null}}},
   {"data":{"name":"errlab"},"mark":{"type":"text","align":"left","baseline":"middle","fontSize":22},
    "encoding":{"x":{"field":"z","type":"quantitative","scale":{"domain":[9,30],"nice":false,"zero":false},"axis":null},
     "y":{"field":"v","type":"quantitative","scale":{"type":"log","domain":[10,500000],"nice":false},"axis":null},
     "text":{"field":"t"},
     "fill":{"field":"e","type":"nominal","scale":{"domain":["LOFAR","HERA"],"range":["#1b7a2b","#b8470f"]},"legend":null}}},
   {"data":{"values":[{"z1":9.9,"z2":11.69,"v":164000}]},"mark":{"type":"rule","color":"#8a8a8a","strokeWidth":1.3},
    "encoding":{"x":{"field":"z1","type":"quantitative","scale":{"domain":[9,30],"nice":false,"zero":false},"axis":null},"x2":{"field":"z2"},
     "y":{"field":"v","type":"quantitative","scale":{"type":"log","domain":[10,500000],"nice":false},"axis":null}}},
   {"data":{"values":[{"z1":20.75,"z2":22.62,"v1":145000,"v2":226000}]},"mark":{"type":"rect","color":"#6b6bff"},
    "encoding":{"x":{"field":"z1","type":"quantitative","scale":{"domain":[9,30],"nice":false,"zero":false},"axis":null},"x2":{"field":"z2"},
     "y":{"field":"v1","type":"quantitative","scale":{"type":"log","domain":[10,500000],"nice":false},"axis":null},"y2":{"field":"v2"}}},
   {"data":{"values":[{"z":12.42,"v":215000,"t":"Astro Models,"},{"z":12.42,"v":113000,"t":"Q = 2 × 10⁻²"},{"z":23.4,"v":176000,"t":"Fiducial Astro"}]},"mark":{"type":"text","align":"left","baseline":"middle","fontSize":24},
    "encoding":{"x":{"field":"z","type":"quantitative","scale":{"domain":[9,30],"nice":false,"zero":false},"axis":null},
     "y":{"field":"v","type":"quantitative","scale":{"type":"log","domain":[10,500000],"nice":false},"axis":null},"text":{"field":"t"}}},
   {"data":{"values":[{"z":20,"v":1000}]},"mark":{"type":"point","opacity":0},
    "encoding":{"x":{"field":"z","type":"quantitative","scale":{"domain":[9,30],"nice":false,"zero":false},"axis":{"orient":"bottom","values":[10,15,20,25,30],"ticks":false,"tickSize":0,"labelPadding":8,"title":"z","titleFontStyle":"italic","titlePadding":5}},
     "y":{"field":"v","type":"quantitative","scale":{"type":"log","domain":[10,500000],"nice":false},"axis":{"orient":"left","values":[10,100,1000,10000,100000],"ticks":false,"tickSize":0,"labelPadding":10,"labelExpr":"datum.value == 10 ? '10' : datum.value == 100 ? '10²' : datum.value == 1000 ? '10³' : datum.value == 10000 ? '10⁴' : '10⁵'","title":"Δ₂₁²(k = 0.13 Mpc⁻¹) [mK²]","titlePadding":14}}}},
   {"data":{"values":[{"z":20,"v":1000}]},"mark":{"type":"point","opacity":0},
    "encoding":{"x":{"field":"z","type":"quantitative","scale":{"domain":[9,30],"nice":false,"zero":false},"axis":{"orient":"bottom","values":[10,15,20,25,30],"labels":false,"title":null,"tickSize":10,"offset":-10,"zindex":2}},
     "y":{"field":"v","type":"quantitative","scale":{"type":"log","domain":[10,500000],"nice":false},"axis":{"orient":"left","values":[10,100,1000,10000,100000],"labels":false,"title":null,"tickSize":10,"offset":-10,"zindex":2}}}},
   {"data":{"values":[{"z":20,"v":1000}]},"mark":{"type":"point","opacity":0},
    "encoding":{"x":{"field":"z","type":"quantitative","scale":{"domain":[9,30],"nice":false,"zero":false},"axis":{"orient":"bottom","values":[9,10,11,12,13,14,15,16,17,18,19,20,21,22,23,24,25,26,27,28,29,30],"labels":false,"title":null,"tickSize":5,"offset":-5,"zindex":2}},
     "y":{"field":"v","type":"quantitative","scale":{"type":"log","domain":[10,500000],"nice":false},"axis":{"orient":"left","values":[20,30,40,50,60,70,80,90,200,300,400,500,600,700,800,900,2000,3000,4000,5000,6000,7000,8000,9000,20000,30000,40000,50000,60000,70000,80000,90000,200000,300000,400000],"labels":false,"title":null,"tickSize":5,"offset":-5,"zindex":2}}}},
   {"data":{"values":[{"z":20,"v":1000}]},"mark":{"type":"point","opacity":0},
    "encoding":{"x":{"field":"z","type":"quantitative","scale":{"domain":[9,30],"nice":false,"zero":false},"axis":{"orient":"top","values":[10,15,20,25,30],"labels":false,"title":null,"tickSize":10,"offset":-10,"zindex":2}},
     "y":{"field":"v","type":"quantitative","scale":{"type":"log","domain":[10,500000],"nice":false},"axis":{"orient":"right","values":[10,100,1000,10000,100000],"labels":false,"title":null,"tickSize":10,"offset":-10,"zindex":2}}}},
   {"data":{"values":[{"z":20,"v":1000}]},"mark":{"type":"point","opacity":0},
    "encoding":{"x":{"field":"z","type":"quantitative","scale":{"domain":[9,30],"nice":false,"zero":false},"axis":{"orient":"top","values":[9,10,11,12,13,14,15,16,17,18,19,20,21,22,23,24,25,26,27,28,29,30],"labels":false,"title":null,"tickSize":5,"offset":-5,"zindex":2}},
     "y":{"field":"v","type":"quantitative","scale":{"type":"log","domain":[10,500000],"nice":false},"axis":{"orient":"right","values":[20,30,40,50,60,70,80,90,200,300,400,500,600,700,800,900,2000,3000,4000,5000,6000,7000,8000,9000,20000,30000,40000,50000,60000,70000,80000,90000,200000,300000,400000],"labels":false,"title":null,"tickSize":5,"offset":-5,"zindex":2}}}}
  ]
 }
]
}
